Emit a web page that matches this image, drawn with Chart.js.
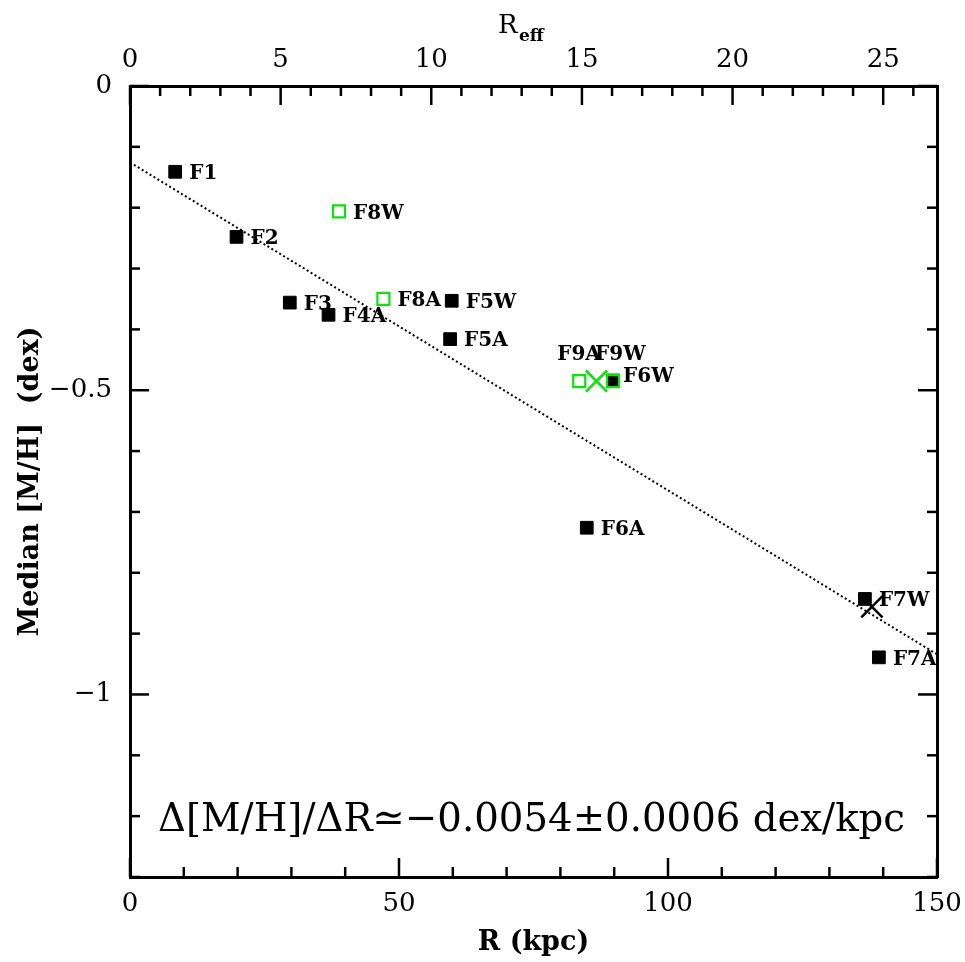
<!DOCTYPE html>
<html>
<head>
<meta charset="utf-8">
<script src="https://cdn.jsdelivr.net/npm/chart.js@4/dist/chart.umd.min.js"></script>
<style>
  html, body { margin: 0; padding: 0; background: #fff; }
  canvas { display: block; }
</style>
</head>
<body>
<canvas id="canvas1" width="965" height="962"></canvas>
<script>
// fields plotted as black filled squares
const blackNames = ["F1", "F2", "F3", "F4A", "F5W", "F5A", "F6W", "F6A", "F7W", "F7A"];
const blackR = [8.4, 19.8, 29.7, 36.9, 59.8, 59.5, 89.8, 84.9, 136.6, 139.2];
const blackMH = [-0.141, -0.248, -0.356, -0.376, -0.353, -0.416, -0.484, -0.726, -0.843, -0.939];

// fields plotted as green open squares
const greenNames = ["F8W", "F8A", "F9A", "F9W"];
const greenR = [38.85, 47.1, 83.5, 89.8];
const greenMH = [-0.206, -0.350, -0.485, -0.485];

// crosses
const greenCrossR = [86.7];
const greenCrossMH = [-0.485];
const blackCrossR = [137.9];
const blackCrossMH = [-0.856];

// gradient fit (dotted line)
const fitR = [0, 150];
const fitMH = [-0.1255, -0.934];

// axes
const xTicks = [0, 50, 100, 150];
const xTickLabels = ["0", "50", "100", "150"];
const yTicks = [0, -0.5, -1];
const yTickLabels = ["0", "\u22120.5", "\u22121"];
const reffTicks = [0, 5, 10, 15, 20, 25];
const reffTickLabels = ["0", "5", "10", "15", "20", "25"];
const kpcPerReff = 5.6;

const slopeText = "\u0394[M/H]/\u0394R\u2243\u22120.0054\u00b10.0006 dex/kpc";

// label nudges (px) for the crowded ones, default is to the right of the point
const labelShift = { F9A: [-22, -26], F9W: [-18, -26], F6W: [10, -4] };

const green = "#10e010";

function pts(xs, ys) {
  return xs.map((x, i) => ({ x: x, y: ys[i] }));
}
function near(v, vals) {
  for (let i = 0; i < vals.length; i++) {
    if (Math.abs(v - vals[i]) < 1e-6) return i;
  }
  return -1;
}

function axis(pos, min, max, step, vals, labs, size, pad) {
  const horiz = pos === "top" || pos === "bottom";
  return {
    type: "linear",
    position: pos,
    min: min,
    max: max,
    afterFit: (s) => {
      if (horiz) s.height = size;
      else s.width = size;
      s.paddingLeft = s.paddingRight = s.paddingTop = s.paddingBottom = 0;
    },
    border: { display: true, color: "#000", width: 3 },
    grid: { display: false, drawTicks: false },
    ticks: {
      stepSize: step,
      autoSkip: false,
      maxRotation: 0,
      includeBounds: false,
      padding: pad,
      color: "#000",
      font: { family: "DejaVu Serif", size: 26 },
      callback: (v) => {
        const i = near(v, vals);
        return i >= 0 && labs ? labs[i] : "";
      },
    },
  };
}

const scales = {
  x: axis("bottom", 0, 150, 10, xTicks, xTickLabels, 85, 12),
  xTop: axis("top", 0, 150 / kpcPerReff, 1, reffTicks, reffTickLabels, 86, 10),
  y: axis("left", -1.3, 0, 0.1, yTicks, yTickLabels, 130, 18),
  yRight: axis("right", -1.3, 0, 0.1, yTicks, null, 28, 0),
};
scales.x.title = {
  display: true,
  text: "R (kpc)",
  color: "#000",
  font: { family: "DejaVu Serif", size: 27, weight: "bold" },
  padding: { top: 0, bottom: 3 },
};
scales.y.title = {
  display: true,
  text: "Median [M/H]  (dex)",
  color: "#000",
  font: { family: "DejaVu Serif", size: 27, weight: "bold" },
  padding: { top: 15, bottom: 0 },
};
const majorOf = { x: xTicks, xTop: reffTicks, y: yTicks, yRight: yTicks };

const textPlugin = {
  id: "texts",
  beforeDraw(chart) {
    const ctx = chart.ctx;
    ctx.save();
    ctx.fillStyle = "#fff";
    ctx.fillRect(0, 0, chart.width, chart.height);
    ctx.restore();
  },
  afterDatasetsDraw(chart) {
    const ctx = chart.ctx;
    const a = chart.chartArea;
    ctx.save();
    ctx.beginPath();
    ctx.rect(a.left, a.top, a.right - a.left, a.bottom - a.top);
    ctx.clip();
    ctx.font = 'bold 20px "DejaVu Serif"';
    ctx.fillStyle = "#000";
    ctx.textBaseline = "middle";
    ctx.textAlign = "left";
    [[1, blackNames], [2, greenNames]].forEach(([di, names]) => {
      chart.getDatasetMeta(di).data.forEach((el, i) => {
        const off = labelShift[names[i]] || [14, 2];
        ctx.fillText(names[i], el.x + off[0], el.y + off[1]);
      });
    });
    ctx.restore();
  },
  afterDraw(chart) {
    const ctx = chart.ctx;
    const a = chart.chartArea;
    ctx.save();
    // inward ticks on all four sides
    ctx.strokeStyle = "#000";
    ctx.lineWidth = 2.5;
    Object.keys(majorOf).forEach((id) => {
      const s = chart.scales[id];
      s.ticks.forEach((t) => {
        const p = s.getPixelForValue(t.value);
        const len = near(t.value, majorOf[id]) >= 0 ? 19 : 10;
        ctx.beginPath();
        if (s.position === "bottom") { ctx.moveTo(p, a.bottom); ctx.lineTo(p, a.bottom - len); }
        if (s.position === "top") { ctx.moveTo(p, a.top); ctx.lineTo(p, a.top + len); }
        if (s.position === "left") { ctx.moveTo(a.left, p); ctx.lineTo(a.left + len, p); }
        if (s.position === "right") { ctx.moveTo(a.right, p); ctx.lineTo(a.right - len, p); }
        ctx.stroke();
      });
    });
    ctx.fillStyle = "#000";
    ctx.textBaseline = "alphabetic";
    ctx.textAlign = "left";
    // slope annotation
    ctx.font = '40px "DejaVu Serif"';
    ctx.fillText(slopeText, 158, 831, 747);
    // top axis title R_eff
    ctx.font = '26px "DejaVu Serif"';
    ctx.fillText("R", 498, 33);
    ctx.font = 'bold 17px "DejaVu Serif"';
    ctx.fillText("eff", 519, 41);
    ctx.restore();
  },
};

const chart = new Chart(document.getElementById("canvas1"), {
  type: "scatter",
  data: {
    datasets: [
      {
        label: "fit",
        data: pts(fitR, fitMH),
        showLine: true,
        borderColor: "#000",
        borderWidth: 2,
        borderDash: [2, 2.6],
        pointRadius: 0,
        fill: false,
        order: 5,
      },
      {
        label: "black",
        data: pts(blackR, blackMH),
        pointStyle: "rect",
        pointRadius: 9,
        backgroundColor: "#000",
        borderColor: "#000",
        borderWidth: 1,
        order: 4,
      },
      {
        label: "green",
        data: pts(greenR, greenMH),
        pointStyle: "rect",
        pointRadius: 8.5,
        backgroundColor: "rgba(0,0,0,0)",
        borderColor: green,
        borderWidth: 2.2,
        order: 3,
      },
      {
        label: "black cross",
        data: pts(blackCrossR, blackCrossMH),
        pointStyle: "crossRot",
        pointRadius: 15,
        borderColor: "#000",
        borderWidth: 2.5,
        order: 2,
      },
      {
        label: "green cross",
        data: pts(greenCrossR, greenCrossMH),
        pointStyle: "crossRot",
        pointRadius: 15,
        borderColor: green,
        borderWidth: 2.5,
        order: 1,
      },
    ],
  },
  options: {
    responsive: false,
    animation: false,
    devicePixelRatio: 1,
    layout: { padding: 0 },
    scales: scales,
    plugins: {
      legend: { display: false },
      tooltip: { enabled: false },
    },
  },
  plugins: [textPlugin],
});
</script>
</body>
</html>
